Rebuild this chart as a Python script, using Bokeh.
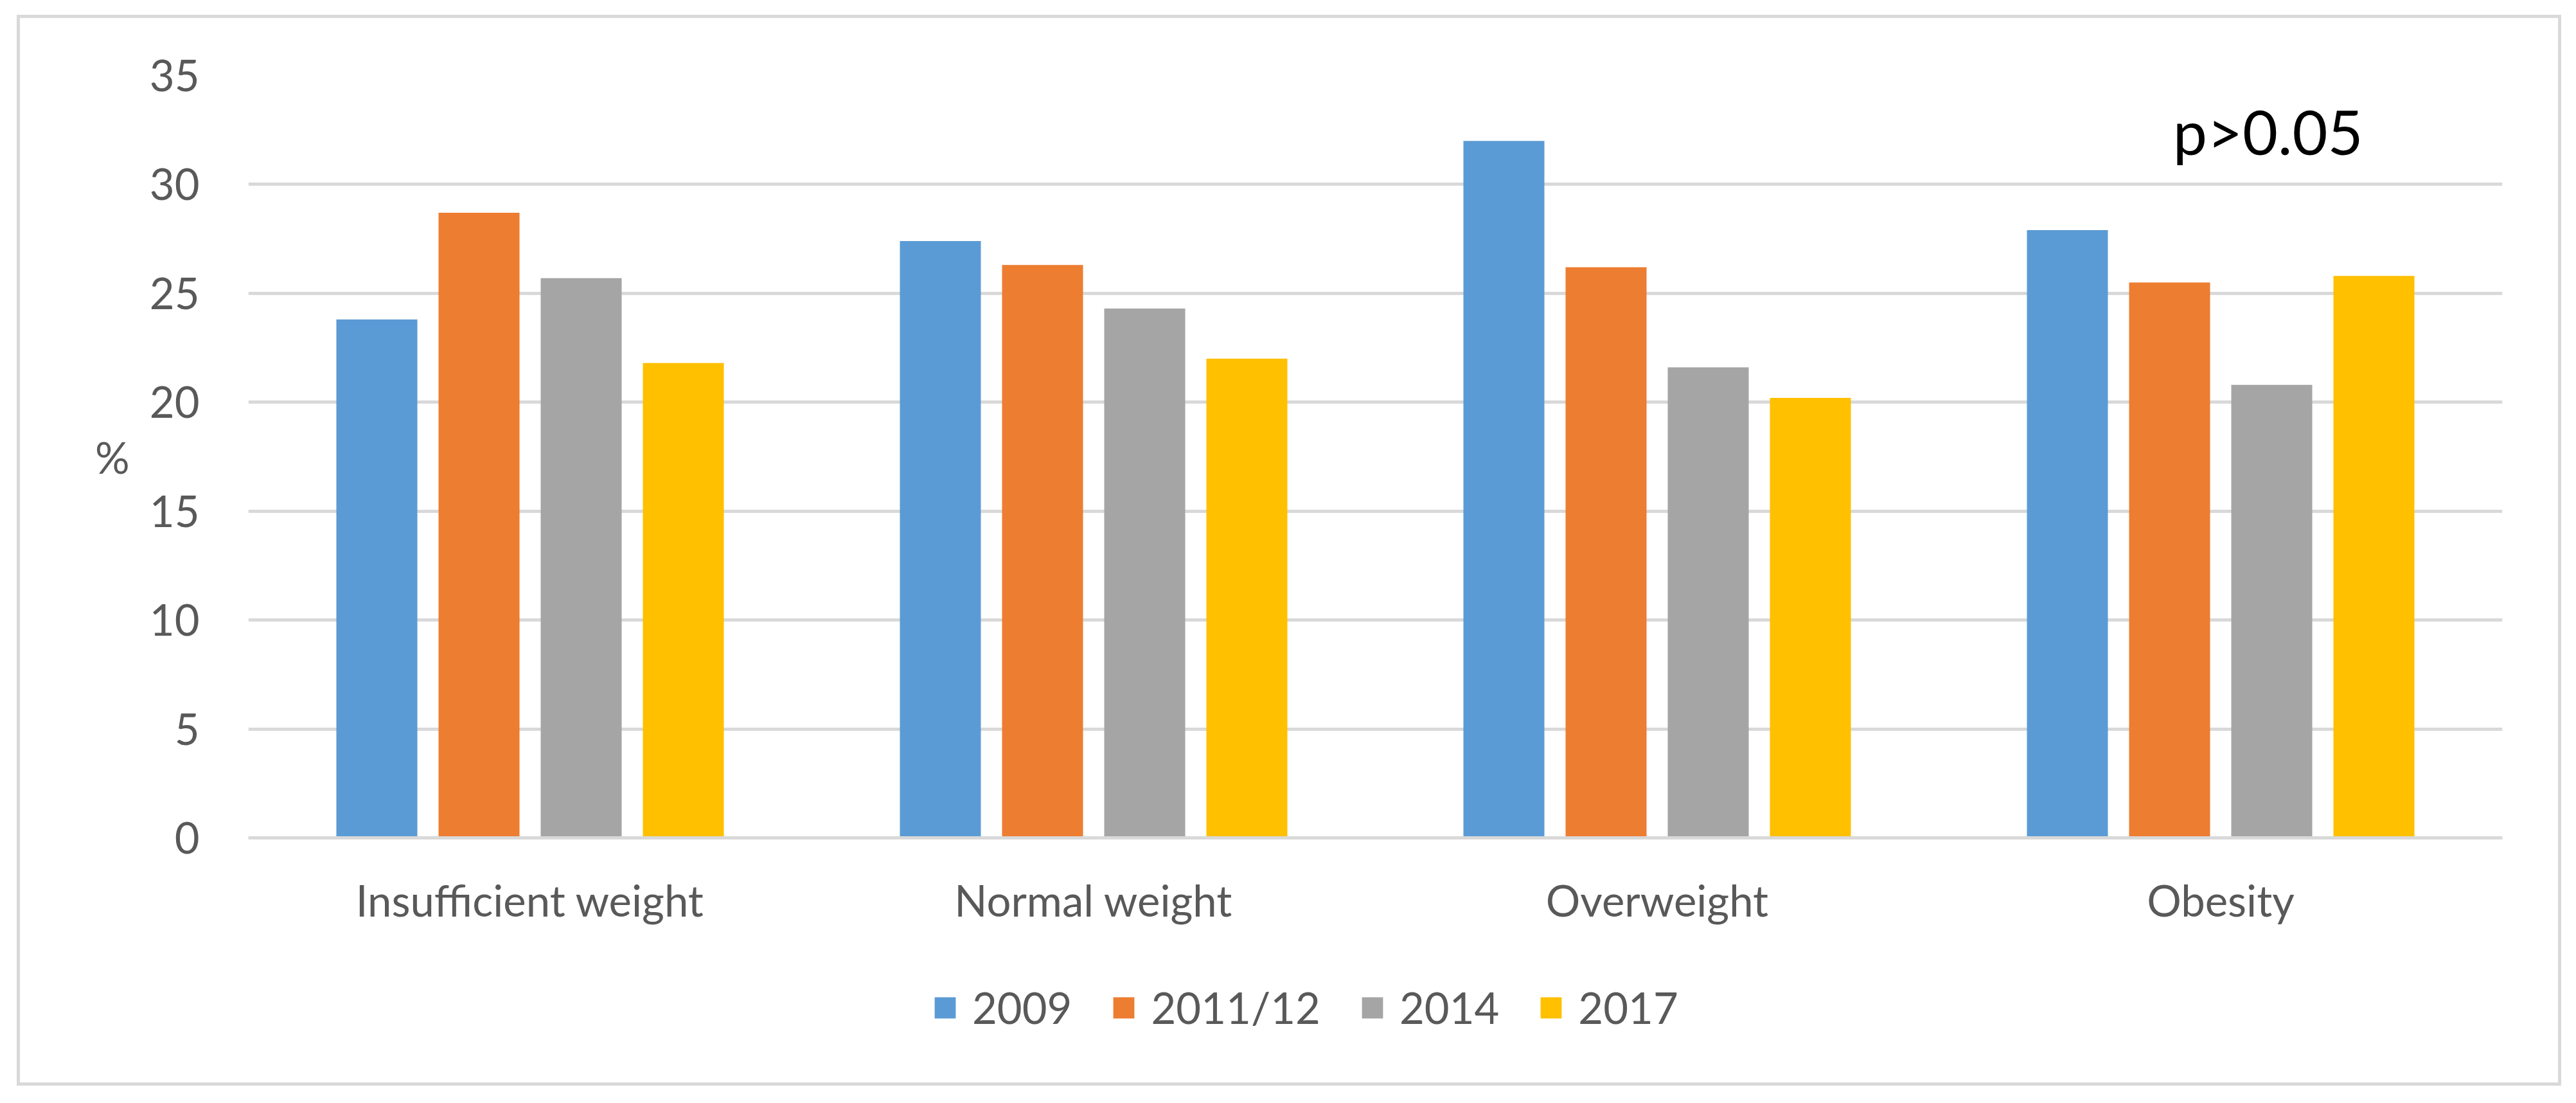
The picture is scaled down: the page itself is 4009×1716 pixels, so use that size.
from bokeh.plotting import figure
from bokeh.layouts import column
from bokeh.models import ColumnDataSource, FactorRange, Range1d, FixedTicker, Legend, LegendItem, Label
from bokeh.transform import dodge
from bokeh.embed import file_html
from bokeh.resources import INLINE

categories = ["Insufficient weight", "Normal weight", "Overweight", "Obesity"]
series_names = ["2009", "2011/12", "2014", "2017"]
v2009 = [23.8, 27.4, 32.0, 27.9]
v2011 = [28.7, 26.3, 26.2, 25.5]
v2014 = [25.7, 24.3, 21.6, 20.8]
v2017 = [21.8, 22.0, 20.2, 25.8]
y_ticks = [0, 5, 10, 15, 20, 25, 30, 35]
colors = ["#5B9BD5", "#ED7D31", "#A5A5A5", "#FFC000"]
annotation_text = "p>0.05"

FONT = "Lato"
TXT = "#595959"
FS = "67px"

W = 3950
H_MAIN = 1435
H_LEG = 221

source = ColumnDataSource(data=dict(cat=categories, a=v2009, b=v2011, c=v2014, d=v2017))

p = figure(
    x_range=FactorRange(factors=categories, range_padding=0),
    y_range=Range1d(0, 35),
    width=W, height=H_MAIN,
    min_border_left=355, min_border_right=87, min_border_top=89, min_border_bottom=160,
    output_backend="svg", toolbar_location=None,
)
p.outline_line_color = None
p.background_fill_color = "white"
p.border_fill_color = "white"

pitch = 0.1813
bw = 0.1437
offsets = [-1.5 * pitch, -0.5 * pitch, 0.5 * pitch, 1.5 * pitch]
for col, off, c in zip(["a", "b", "c", "d"], offsets, colors):
    p.vbar(x=dodge("cat", off, range=p.x_range), top=col, width=bw, source=source,
           fill_color=c, line_color=None)

# grid
p.xgrid.grid_line_color = None
p.ygrid.grid_line_color = "#d9d9d9"
p.ygrid.grid_line_width = 5
p.ygrid.ticker = FixedTicker(ticks=y_ticks)

# y axis
p.yaxis.ticker = FixedTicker(ticks=y_ticks)
p.yaxis.axis_line_color = None
p.yaxis.major_tick_line_color = None
p.yaxis.minor_tick_line_color = None
p.yaxis.major_label_standoff = 70
p.yaxis.major_label_text_font = FONT
p.yaxis.major_label_text_font_size = FS
p.yaxis.major_label_text_color = TXT
p.yaxis.axis_label = "%"
p.yaxis.axis_label_orientation = "horizontal"
p.yaxis.axis_label_text_font = FONT
p.yaxis.axis_label_text_font_size = FS
p.yaxis.axis_label_text_font_style = "normal"
p.yaxis.axis_label_text_color = TXT
p.yaxis.axis_label_standoff = 28

# x axis
p.xaxis.axis_line_color = "#d9d9d9"
p.xaxis.axis_line_width = 5
p.xaxis.major_tick_line_color = None
p.xaxis.minor_tick_line_color = None
p.xaxis.major_label_standoff = 50
p.xaxis.major_label_text_font = FONT
p.xaxis.major_label_text_font_size = FS
p.xaxis.major_label_text_color = TXT

# annotation
lab = Label(x=3.584, y=32.45, text=annotation_text, text_font=FONT, text_font_size="95px",
            text_font_style="normal",
            text_color="black", text_align="center", text_baseline="alphabetic")
p.add_layout(lab)

# legend strip (separate canvas below the chart, frames aligned by the column)
pl = figure(width=W, height=H_LEG, x_range=Range1d(0, 1), y_range=Range1d(0, 1),
            min_border=0, output_backend="svg", toolbar_location=None,
            x_axis_type=None, y_axis_type=None)
pl.outline_line_color = None
pl.background_fill_color = "white"
pl.border_fill_color = "white"
pl.grid.visible = False
# hidden swatch renderers (outside the visible range) used only for legend glyphs
swatches = [pl.vbar(x=[-1], top=[0], width=0.1, fill_color=c, line_color=None) for c in colors]
items = [LegendItem(label=n, renderers=[r]) for n, r in zip(series_names, swatches)]
legend = Legend(items=items, orientation="horizontal", location=(1064, 77),
                glyph_width=41, glyph_height=41, label_standoff=22, spacing=60,
                padding=0, margin=0, border_line_color=None, background_fill_alpha=0,
                label_text_font=FONT, label_text_font_size=FS, label_text_color=TXT)
pl.add_layout(legend, "center")

layout = column(p, pl, spacing=0,
                styles={"border": "5px solid #d9d9d9", "position": "relative",
                        "left": "26px", "top": "23px"})

open("out.html", "w").write(file_html(layout, INLINE))
